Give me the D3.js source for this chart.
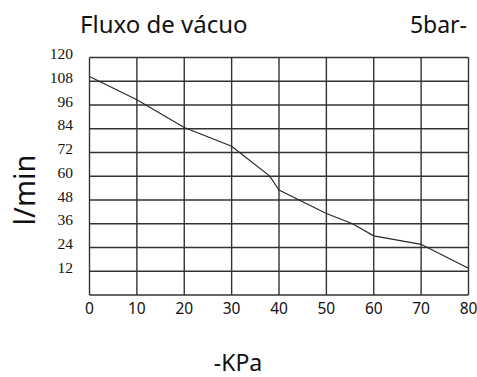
<!DOCTYPE html>
<html><head><meta charset="utf-8">
<script src="https://cdn.jsdelivr.net/npm/d3@7"></script>
<style>body{margin:0;background:#fff}svg{display:block}</style>
</head><body>
<script>
const xTicks = [0,10,20,30,40,50,60,70,80];
const yTicks = [12,24,36,48,60,72,84,96,108,120];
const kpa = [0,10,20,30,38,40,50,55.4,60,70,71,80];
const flow = [110.4,98.7,84.6,75.2,60.2,53,41.2,36.1,29.9,25.6,24.4,13.5];
const title = "Fluxo de vácuo";
const subtitle = "5bar-";
const yLabel = "l/min";
const xLabel = "-KPa";

const W = 477, H = 377;
const svg = d3.select("body").append("svg").attr("width", W).attr("height", H);
const x = d3.scaleLinear().domain([0,80]).range([89.5,468.5]);
const y = d3.scaleLinear().domain([0,120]).range([295,57.5]);
const ink = "#333";
const sans = "'Noto Sans', 'Open Sans', sans-serif";

const g = svg.append("g");
g.selectAll("line.vx").data(xTicks).enter().append("line")
  .attr("x1", d=>x(d)).attr("x2", d=>x(d)).attr("y1", y(0)).attr("y2", y(120))
  .attr("stroke", ink).attr("stroke-width", 1.4);
g.selectAll("line.hy").data([0].concat(yTicks)).enter().append("line")
  .attr("x1", x(0)).attr("x2", x(80)).attr("y1", d=>y(d)).attr("y2", d=>y(d))
  .attr("stroke", ink).attr("stroke-width", 1.4);

const pts = kpa.map((k,i)=>[k, flow[i]]);
g.append("path").datum(pts)
  .attr("d", d3.line().x(d=>x(d[0])).y(d=>y(d[1])))
  .attr("fill","none").attr("stroke","#2a2a2a").attr("stroke-width",1.2);

svg.selectAll("text.yt").data(yTicks).enter().append("text")
  .attr("x", 73).attr("y", d=>y(d)+1.5)
  .attr("text-anchor","end")
  .attr("font-family","'Liberation Serif', serif").attr("font-size",15.5)
  .attr("fill","#111").text(d=>d);

svg.selectAll("text.xt").data(xTicks).enter().append("text")
  .attr("x", d=>x(d)).attr("y", 313.5)
  .attr("text-anchor","middle")
  .attr("font-family",sans).attr("font-size",15.5)
  .attr("fill","#111").text(d=>d);

svg.append("text").attr("x",80).attr("y",33).attr("font-family",sans)
  .attr("font-size",24).attr("fill","#111").text(title);
svg.append("text").attr("x",467).attr("y",33).attr("text-anchor","end").attr("font-family",sans)
  .attr("font-size",23).attr("fill","#111").text(subtitle);
svg.append("text").attr("x",238).attr("y",371).attr("text-anchor","middle").attr("font-family",sans)
  .attr("font-size",23).attr("fill","#111").text(xLabel);
svg.append("text").attr("transform","translate(35,190) rotate(-90)").attr("text-anchor","middle")
  .attr("font-family",sans).attr("font-size",29).attr("fill","#111").text(yLabel);
</script>
</body></html>
